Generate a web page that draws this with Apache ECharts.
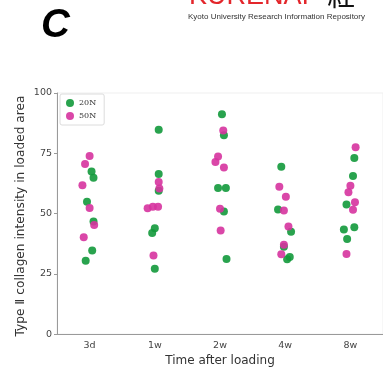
<!DOCTYPE html>
<html>
<head>
<meta charset="utf-8">
<script src="https://cdn.jsdelivr.net/npm/echarts@6/dist/echarts.min.js"></script>
<style>
  html, body { margin: 0; padding: 0; background: #fff; }
  #main { width: 383px; height: 372px; }
</style>
</head>
<body>
<div id="main"></div>
<script>
// 时间点（横轴类别）
const times = ['3d', '1w', '2w', '4w', '8w'];
const yTicks = [0, 25, 50, 75, 100];

// 20N 每个时间点的数值，jitter 为水平抖动（类别单位）
const n20Values = [
  [67.4, 64.8, 54.9, 46.7, 34.7, 30.4],
  [84.8, 66.4, 59.5, 43.9, 41.9, 27.1],
  [91.2, 82.5, 60.6, 60.6, 50.8, 31.2],
  [69.4, 51.7, 42.4, 36.2, 31.0, 32.0],
  [73.0, 65.6, 53.8, 43.4, 44.3, 39.4]
];
const n20Jitter = [
  [0.03, 0.06, -0.04, 0.06, 0.04, -0.06],
  [0.06, 0.06, 0.06, 0, -0.04, 0],
  [0.03, 0.06, -0.03, 0.09, 0.06, 0.1],
  [-0.06, -0.11, 0.09, -0.02, 0.03, 0.07],
  [0.06, 0.04, -0.06, -0.1, 0.06, -0.05]
];

// 50N
const n50Values = [
  [73.9, 70.6, 61.7, 52.3, 45.2, 40.2],
  [63.1, 60.4, 52.2, 52.8, 52.8, 32.6],
  [84.4, 73.7, 71.4, 69.1, 52.0, 43.0],
  [61.1, 57.0, 51.3, 44.6, 37.1, 33.1],
  [77.5, 61.5, 58.8, 54.7, 51.6, 33.2]
];
const n50Jitter = [
  [0, -0.07, -0.11, 0, 0.07, -0.09],
  [0.06, 0.07, -0.11, -0.03, 0.05, -0.02],
  [0.05, -0.03, -0.07, 0.06, 0, 0.01],
  [-0.09, 0.01, -0.02, 0.05, -0.02, -0.06],
  [0.08, 0, -0.03, 0.07, 0.04, -0.06]
];

// 拼成散点 [x, y]
function toPoints(values, jitter) {
  let pts = [];
  values.forEach(function (list, i) {
    list.forEach(function (v, j) {
      pts.push([i + jitter[i][j], v]);
    });
  });
  return pts;
}

const green = '#12993b';
const pink = '#d6339f';
const axisGray = '#9a9a9a';

var myChart = echarts.init(document.getElementById('main'));
var option = {
  backgroundColor: '#fff',
  animation: false,
  textStyle: { fontFamily: 'DejaVu Sans' },
  graphic: [
    {
      type: 'text', left: 41, top: 6,
      style: { text: 'C', font: 'italic bold 40px "Liberation Sans"', fill: '#000' }
    },
    {
      type: 'text', x: 189, y: 10,
      style: { text: 'KURENAI', font: '27px "Liberation Sans"', fill: '#e3262b', verticalAlign: 'bottom' }
    },
    {
      type: 'text', x: 327, y: 9,
      style: { text: '紅', font: '28px "Noto Sans CJK JP"', fill: '#111', verticalAlign: 'bottom' }
    },
    {
      type: 'text', x: 188, y: 17,
      style: { text: 'Kyoto University Research Information Repository', font: '8px "Liberation Sans"', fill: '#333', verticalAlign: 'middle' }
    },
    // 纵轴标题
    {
      type: 'text', x: 21, y: 216, rotation: Math.PI / 2,
      style: { text: 'Type Ⅱ collagen intensity in loaded area', font: '12.2px "DejaVu Sans"', fill: '#333', align: 'center', verticalAlign: 'middle' }
    }
  ],
  grid: {
    left: 57, top: 93, right: -4, bottom: 33,
    show: true, borderColor: '#efefef', borderWidth: 1
  },
  legend: {
    left: 60, top: 94, orient: 'vertical',
    itemWidth: 8, itemHeight: 8, itemGap: 5,
    padding: [5, 8, 5, 6],
    borderColor: '#dcdcdc', borderWidth: 1, borderRadius: 2,
    textStyle: { fontSize: 8, color: '#333', fontFamily: 'DejaVu Serif' },
    data: [
      { name: '20N', icon: 'circle' },
      { name: '50N', icon: 'circle' }
    ]
  },
  xAxis: [
    {
      type: 'category', data: times, boundaryGap: true,
      name: 'Time after loading', nameLocation: 'middle', nameGap: 20,
      nameTextStyle: { fontSize: 12, color: '#333' },
      axisLine: { lineStyle: { color: axisGray } },
      axisTick: { alignWithLabel: true, length: 3, lineStyle: { color: axisGray } },
      axisLabel: { fontSize: 9.5, color: '#444', margin: 6 },
      splitLine: { show: false }
    },
    {
      type: 'value', min: -0.5, max: 4.5, show: false
    }
  ],
  yAxis: {
    type: 'value', min: yTicks[0], max: yTicks[yTicks.length - 1], interval: 25,
    axisLine: { show: true, onZero: false, lineStyle: { color: axisGray } },
    axisTick: { show: true, length: 3, lineStyle: { color: axisGray } },
    axisLabel: { fontSize: 9.5, color: '#444', margin: 5 },
    splitLine: { show: false }
  },
  series: [
    {
      name: '20N', type: 'scatter', xAxisIndex: 1,
      symbolSize: 8,
      itemStyle: { color: green, opacity: 0.9 },
      data: toPoints(n20Values, n20Jitter)
    },
    {
      name: '50N', type: 'scatter', xAxisIndex: 1,
      symbolSize: 8,
      itemStyle: { color: pink, opacity: 0.9 },
      data: toPoints(n50Values, n50Jitter)
    }
  ]
};
myChart.setOption(option);
</script>
</body>
</html>
